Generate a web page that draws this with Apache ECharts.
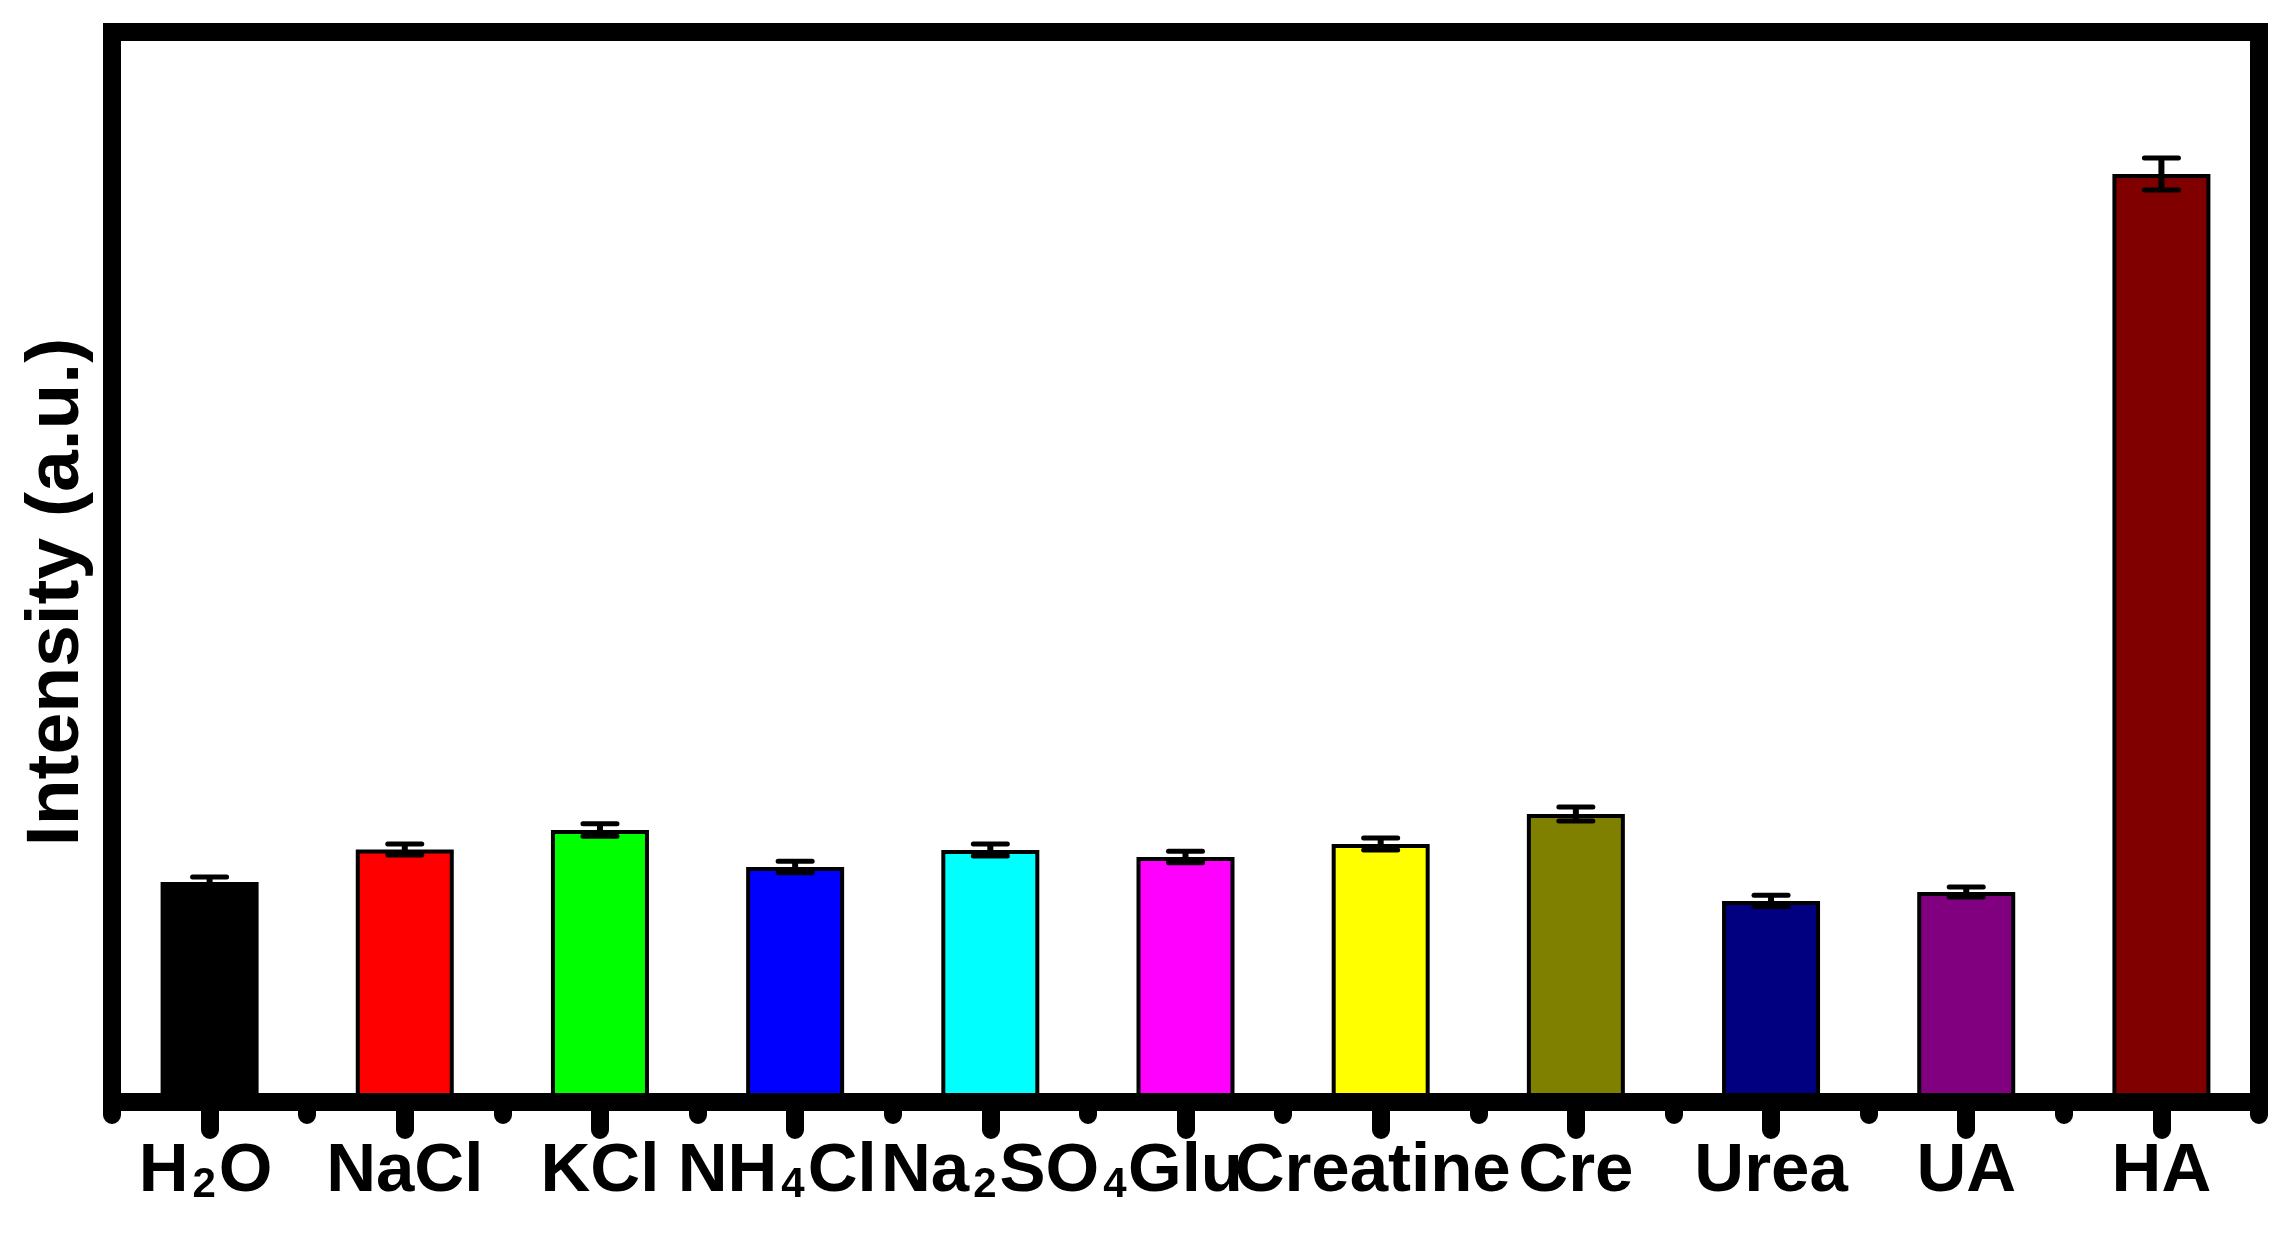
<!DOCTYPE html>
<html>
<head>
<meta charset="utf-8">
<script src="https://cdn.jsdelivr.net/npm/echarts@6/dist/echarts.min.js"></script>
<style>
html,body{margin:0;padding:0;background:#fff;}
#chart{width:2291px;height:1236px;}
</style>
</head>
<body>
<div id="chart"></div>
<script>
const categories = ['H2O', 'NaCl', 'KCl', 'NH4Cl', 'Na2SO4', 'Glu', 'Creatine', 'Cre', 'Urea', 'UA', 'HA'];
const values = [205.6, 236.0, 254.2, 219.6, 235.5, 229.0, 241.1, 269.2, 187.9, 196.3, 867.3];
const errors = [4.7, 5.1, 5.9, 5.4, 5.6, 5.3, 5.6, 6.5, 5.3, 4.7, 15.0];
const barColors = ['#000000', '#FF0000', '#00FF00', '#0000FF', '#00FFFF', '#FF00FF', '#FFFF00', '#808000', '#000080', '#800080', '#800000'];
const yTitle = 'Intensity (a.u.)';

const FONT = '"Liberation Sans", Arial, sans-serif';
// small label offsets seen in the original (px; positive = to the left)
const labelShift = { 'H2O': 4, 'NH4Cl': 18, 'Na2SO4': -15, 'Creatine': 8 };

function labelFormatter(name) {
  // digits become subscripts
  return name.replace(/(\d+)|(\D+)/g, function (m, d, t) {
    return d ? '{s|' + d + '}' : '{n|' + t + '}';
  });
}

const axisData = categories.map(function (c) {
  const sh = labelShift[c] || 0;
  return sh ? { value: c, textStyle: { padding: [0, Math.max(0, 2 * sh), 0, Math.max(0, -2 * sh)] } } : c;
});

const chart = echarts.init(document.getElementById('chart'), null, { renderer: 'canvas' });

const option = {
  backgroundColor: '#ffffff',
  animation: false,
  grid: {
    left: 112, right: 32, top: 32, bottom: 134,
    show: true, borderColor: '#000', borderWidth: 18,
    outerBoundsMode: 'none'
  },
  xAxis: [
    {
      type: 'category',
      data: axisData,
      position: 'bottom',
      z: 5,
      axisLine: { show: true, lineStyle: { color: '#000', width: 18 } },
      axisTick: { show: true, alignWithLabel: true, length: 28, lineStyle: { color: '#000', width: 18, cap: 'round' } },
      axisLabel: {
        interval: 0,
        margin: 35,
        hideOverlap: false,
        formatter: labelFormatter,
        rich: {
          n: { fontSize: 69, fontWeight: 'bold', fontFamily: FONT, color: '#000', lineHeight: 69, verticalAlign: 'bottom' },
          s: { fontSize: 42, fontWeight: 'bold', fontFamily: FONT, color: '#000', lineHeight: 48, verticalAlign: 'bottom', padding: [0, 3, 0, 4] }
        }
      },
      splitLine: { show: false }
    },
    {
      type: 'category',
      data: categories,
      position: 'bottom',
      z: 5,
      axisLine: { show: false },
      axisTick: { show: true, length: 13, lineStyle: { color: '#000', width: 18, cap: 'round' } },
      axisLabel: { show: false },
      splitLine: { show: false }
    }
  ],
  yAxis: {
    type: 'value',
    min: 0,
    max: 1000,
    z: 5,
    axisLine: { show: true, lineStyle: { color: '#000', width: 18 } },
    axisTick: { show: false },
    axisLabel: { show: false },
    splitLine: { show: false }
  },
  graphic: [
    {
      type: 'text',
      x: 57,
      y: 592,
      rotation: Math.PI / 2,
      style: {
        text: yTitle,
        font: 'bold 75px ' + FONT,
        fill: '#000',
        textAlign: 'center',
        textVerticalAlign: 'middle'
      }
    }
  ],
  series: [
    {
      type: 'bar',
      xAxisIndex: 0,
      barWidth: 98,
      z: 2,
      data: values.map(function (v, i) {
        return { value: v, itemStyle: { color: barColors[i], borderColor: '#000', borderWidth: 4 } };
      })
    },
    {
      type: 'custom',
      xAxisIndex: 0,
      z: 4,
      data: values.map(function (v, i) { return [i, v, errors[i]]; }),
      encode: { x: 0, y: 1 },
      renderItem: function (params, api) {
        const i = api.value(0), v = api.value(1), e = api.value(2);
        const top = api.coord([i, v + e]);
        const bot = api.coord([i, v - e]);
        const hw = 17;
        const st = { stroke: '#000', lineWidth: 5, lineCap: 'round' };
        return {
          type: 'group',
          children: [
            { type: 'line', shape: { x1: top[0], y1: top[1], x2: bot[0], y2: bot[1] }, style: { stroke: '#000', lineWidth: 6 } },
            { type: 'line', shape: { x1: top[0] - hw, y1: top[1], x2: top[0] + hw, y2: top[1] }, style: st },
            { type: 'line', shape: { x1: bot[0] - hw, y1: bot[1], x2: bot[0] + hw, y2: bot[1] }, style: st }
          ]
        };
      }
    }
  ]
};

chart.setOption(option);
</script>
</body>
</html>
